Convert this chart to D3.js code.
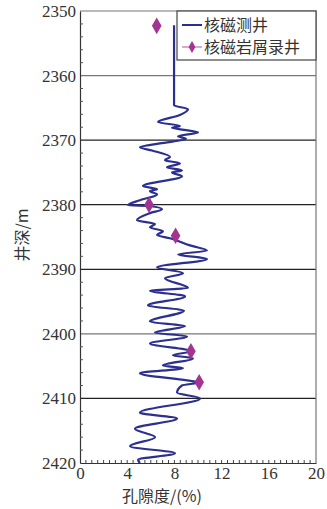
<!DOCTYPE html>
<meta charset="utf-8">
<style>
    body { margin: 0; background: #fff; overflow: hidden; }
    text { font-family: "Liberation Serif", "DejaVu Serif", serif; }
    .cjk { font-family: "Noto Sans CJK SC", sans-serif; }
</style>
<svg id="canvas" width="327" height="509"></svg>
<script src="https://cdnjs.cloudflare.com/ajax/libs/d3/7.8.5/d3.min.js"></script>
<script>

    // NMR log, porosity (%) vs depth (m)
    var logPorosity = [7.97, 7.97, 9.15, 8.47, 6.61, 8.47, 7.80, 8.81, 10.0, 8.31, 8.98, 6.78, 5.08, 6.10, 7.63, 7.20,
        8.47, 7.37, 8.64, 7.80, 8.64, 5.34, 6.53, 5.93, 6.53, 5.08, 4.07, 5.93, 6.95, 5.93, 4.83, 6.36,
        5.93, 7.03, 6.53, 7.63, 9.32, 10.76, 8.31, 10.76, 6.53, 8.73, 7.20, 9.15, 5.93, 8.90, 5.76, 8.81,
        5.93, 8.90, 6.36, 9.07, 5.93, 9.41, 7.88, 9.58, 7.03, 8.73, 5.08, 9.07, 10.08, 8.64, 8.22, 10.17,
        5.08, 8.22, 4.66, 6.36, 4.24, 8.05, 4.92, 5.08];
    var logDepth = [2352.2, 2364.6, 2365.2, 2366.1, 2367.2, 2367.8, 2368.1, 2368.4, 2368.8, 2369.4, 2369.8, 2370.5, 2371.1, 2371.6, 2372.6, 2373.1,
        2373.6, 2374.2, 2374.7, 2375.0, 2375.6, 2377.1, 2377.6, 2377.9, 2378.4, 2379.3, 2380.1, 2380.2, 2380.7, 2381.3, 2382.4, 2383.0,
        2383.5, 2384.1, 2384.7, 2385.2, 2386.3, 2387.1, 2387.7, 2388.4, 2389.7, 2390.6, 2391.4, 2392.9, 2393.3, 2394.2, 2395.6, 2396.4,
        2398.1, 2398.8, 2399.8, 2400.4, 2401.5, 2402.7, 2403.3, 2403.8, 2404.9, 2405.3, 2406.1, 2407.2, 2407.5, 2408.0, 2409.1, 2410.0,
        2412.2, 2413.1, 2414.7, 2416.0, 2417.4, 2418.5, 2419.5, 2420.0];

    // NMR on cuttings
    var corePorosity = [6.5, 5.85, 8.1, 9.4, 10.1];
    var coreDepth = [2352.3, 2380.0, 2384.8, 2402.7, 2407.5];

    var xTicks = [0, 4, 8, 12, 16, 20];
    var yTicks = [2350, 2360, 2370, 2380, 2390, 2400, 2410, 2420];
    var legendNames = ["核磁测井", "核磁岩屑录井"];

    var svg = d3.select("svg");
    var mLeft = 80, mRight = 316, mTop = 11, mBottom = 463;

    var x = d3.scaleLinear().domain([0, 20]).range([mLeft, mRight]);
    var y = d3.scaleLinear().domain([2350, 2420]).range([mTop, mBottom]);

    // grid lines
    svg.append("g").selectAll("line")
        .data(yTicks.slice(1, -1))
        .enter().append("line")
        .attr("x1", mLeft).attr("x2", mRight)
        .attr("y1", function(d) { return y(d); })
        .attr("y2", function(d) { return y(d); })
        .attr("stroke", function(d) { return d === 2360 || d === 2400 ? "#777" : "#222"; })
        .attr("stroke-width", 1.2);

    // frame top / right
    svg.append("path")
        .attr("d", "M" + mLeft + "," + mTop + "H" + mRight + "V" + mBottom)
        .attr("fill", "none").attr("stroke", "#777").attr("stroke-width", 1.2);

    // y axis
    var yAxis = svg.append("g").attr("transform", "translate(" + mLeft + ",0)")
        .call(d3.axisLeft(y).tickValues(yTicks).tickSize(0).tickPadding(4).tickFormat(d3.format("d")));
    yAxis.select(".domain").attr("stroke", "#333").attr("stroke-width", 1.2);
    yAxis.selectAll("text").attr("font-size", 17).attr("fill", "#333")
        .attr("font-family", "Liberation Serif");
    svg.append("g").selectAll("line")
        .data(d3.range(2352, 2420, 2).filter(function(d) { return d % 10 !== 0; }))
        .enter().append("line")
        .attr("x1", mLeft).attr("x2", mLeft + 3)
        .attr("y1", function(d) { return y(d); }).attr("y2", function(d) { return y(d); })
        .attr("stroke", "#555");

    // x axis
    var xAxis = svg.append("g").attr("transform", "translate(0," + mBottom + ")")
        .call(d3.axisBottom(x).tickValues(xTicks).tickSize(0).tickPadding(4));
    xAxis.select(".domain").attr("stroke", "#333").attr("stroke-width", 1.2);
    xAxis.selectAll("text").attr("font-size", 17).attr("fill", "#333")
        .attr("font-family", "Liberation Serif");
    svg.append("g").selectAll("line")
        .data(d3.range(0.5, 20, 0.5))
        .enter().append("line")
        .attr("x1", function(d) { return x(d); }).attr("x2", function(d) { return x(d); })
        .attr("y1", mBottom).attr("y2", mBottom - 3)
        .attr("stroke", "#444");

    // axis titles
    svg.append("text").attr("class", "cjk")
        .attr("transform", "translate(28,235) rotate(-90)")
        .attr("text-anchor", "middle")
        .attr("font-size", 16).attr("fill", "#333")
        .text("井深/m");
    svg.append("text").attr("class", "cjk")
        .attr("x", 162).attr("y", 502)
        .attr("text-anchor", "middle")
        .attr("font-size", 16).attr("fill", "#333")
        .text("孔隙度/(%)");

    // log curve (depth increases down, so smooth monotone in y)
    var line = d3.line()
        .x(function(d) { return x(d[0]); })
        .y(function(d) { return y(d[1]); })
        .curve(d3.curveMonotoneY);
    svg.append("path")
        .datum(d3.zip(logPorosity, logDepth))
        .attr("d", line)
        .attr("fill", "none")
        .attr("stroke", "#2b2f8f")
        .attr("stroke-width", 2.2)
        .attr("stroke-linejoin", "round");

    // cuttings points
    var diamond = d3.symbol().type(d3.symbolDiamond).size(80);
    svg.append("g").selectAll("path")
        .data(d3.zip(corePorosity, coreDepth))
        .enter().append("path")
        .attr("d", diamond)
        .attr("transform", function(d) { return "translate(" + x(d[0]) + "," + y(d[1]) + ")"; })
        .attr("fill", "#a3348f");

    // legend
    var lg = svg.append("g");
    lg.append("rect")
        .attr("x", 177).attr("y", mTop).attr("width", mRight - 177).attr("height", 49)
        .attr("fill", "#fff").attr("stroke", "#444").attr("stroke-width", 1.2);
    lg.append("line").attr("x1", 182).attr("x2", 202).attr("y1", 25).attr("y2", 25)
        .attr("stroke", "#2b2f8f").attr("stroke-width", 2);
    lg.append("line").attr("x1", 182).attr("x2", 202).attr("y1", 47).attr("y2", 47)
        .attr("stroke", "#c070b0").attr("stroke-width", 1.2);
    lg.append("path").attr("d", d3.symbol().type(d3.symbolDiamond).size(40))
        .attr("transform", "translate(192,47)").attr("fill", "#a3348f");
    lg.selectAll("text.lab")
        .data(legendNames)
        .enter().append("text")
        .attr("class", "cjk")
        .attr("x", 204)
        .attr("y", function(d, i) { return 31 + i * 22; })
        .attr("font-size", 16).attr("fill", "#333")
        .text(function(d) { return d; });

</script>
